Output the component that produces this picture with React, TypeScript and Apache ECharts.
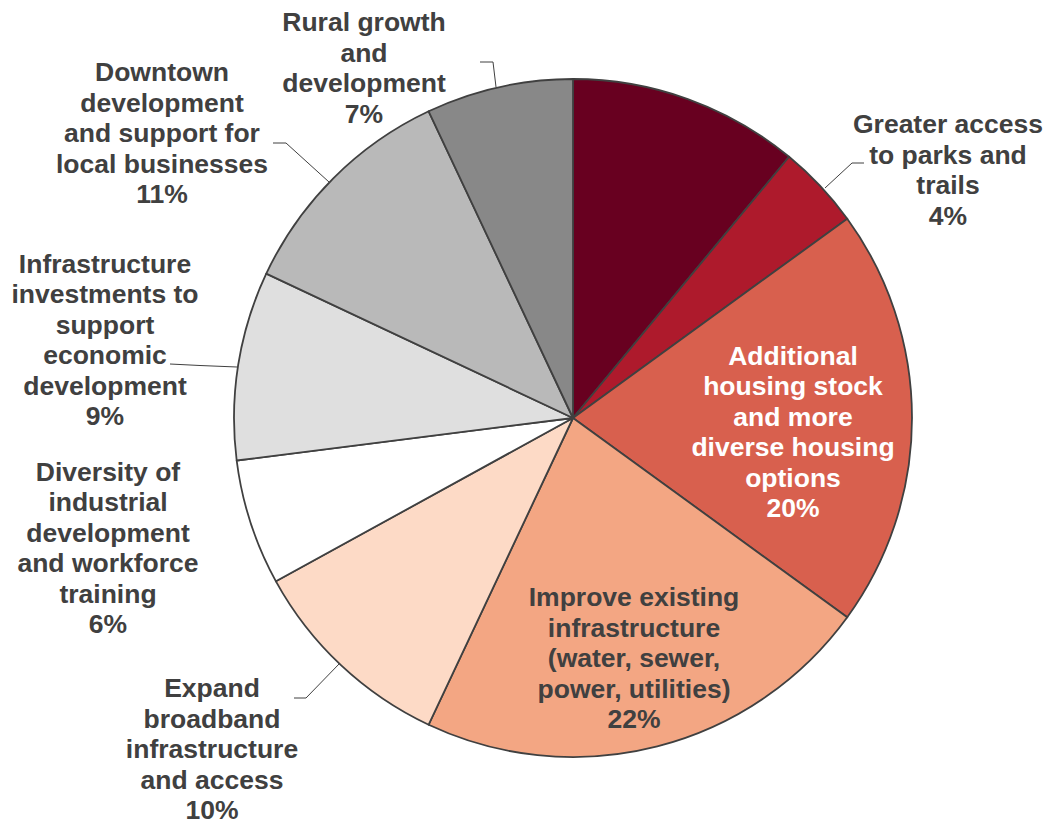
import React, { useEffect, useRef } from "react";
import * as echarts from "echarts";

// Slice names (line breaks as in the chart labels), clockwise from 12 o'clock
const categories: string[] = [
  "Unlabeled",
  "Greater access\nto parks and\ntrails",
  "Additional\nhousing stock\nand more\ndiverse housing\noptions",
  "Improve existing\ninfrastructure\n(water, sewer,\npower, utilities)",
  "Expand\nbroadband\ninfrastructure\nand access",
  "Diversity of\nindustrial\ndevelopment\nand workforce\ntraining",
  "Infrastructure\ninvestments to\nsupport\neconomic\ndevelopment",
  "Downtown\ndevelopment\nand support for\nlocal businesses",
  "Rural growth\nand\ndevelopment",
];

const values: number[] = [11, 4, 20, 22, 10, 6, 9, 11, 7];

const colors: string[] = [
  "#680020",
  "#AE1A2C",
  "#D8604E",
  "#F3A683",
  "#FDDAC6",
  "#FFFFFF",
  "#DFDFDF",
  "#B9B9B9",
  "#888888",
];

// Label placement (label centre) and leader lines, in pixels
const labelPos: ([number, number] | null)[] = [
  null,
  [948, 170],
  [793, 432],
  [634, 658],
  [212, 749],
  [108, 548],
  [105, 340],
  [162, 133],
  [364, 68],
];

const leader: ([number, number][] | null)[] = [
  null,
  [[825, 188], [852, 163], [864, 163]],
  null,
  null,
  [[340, 663], [306, 698], [294, 698]],
  null,
  [[237, 367], [200, 365.5], [170, 364]],
  [[329, 182], [286, 143], [273, 143]],
  [[496, 87], [493, 62], [480, 62]],
];

export default function App() {
  const ref = useRef<HTMLDivElement>(null);

  useEffect(() => {
    document.body.style.margin = "0";
    if (!ref.current) return;
    const chart = echarts.init(ref.current, undefined, { renderer: "svg" });
    const data = categories.map((name, i) => ({
      name,
      value: values[i],
      itemStyle: { color: colors[i] },
      label: {
        show: i !== 0,
        color: i === 2 ? "#FFFFFF" : "#404040",
      },
      labelLine: { show: leader[i] !== null },
    }));
    chart.setOption({
      animation: false,
      backgroundColor: "#FFFFFF",
      series: [
        {
          type: "pie",
          center: [573, 418],
          radius: 339,
          startAngle: 90,
          clockwise: true,
          avoidLabelOverlap: false,
          itemStyle: { borderColor: "#404040", borderWidth: 1.8 },
          label: {
            position: "outside",
            fontFamily: "Liberation Sans, Arial, sans-serif",
            fontWeight: "bold",
            fontSize: 26.5,
            lineHeight: 30.5,
            align: "center",
            formatter: (p: any) => `${p.name}\n${p.value}%`,
          },
          labelLine: {
            lineStyle: { color: "#404040", width: 1 },
          },
          emphasis: { disabled: true },
          labelLayout: (p: any) => {
            const i = p.dataIndex;
            const pos = labelPos[i];
            if (!pos) return {};
            const res: any = {
              x: pos[0],
              y: pos[1],
              align: "center",
              verticalAlign: "middle",
            };
            if (leader[i]) res.labelLinePoints = leader[i];
            return res;
          },
          data,
        },
      ],
    });
    return () => chart.dispose();
  }, []);

  return <div ref={ref} style={{ width: 1049, height: 825 }} />;
}
